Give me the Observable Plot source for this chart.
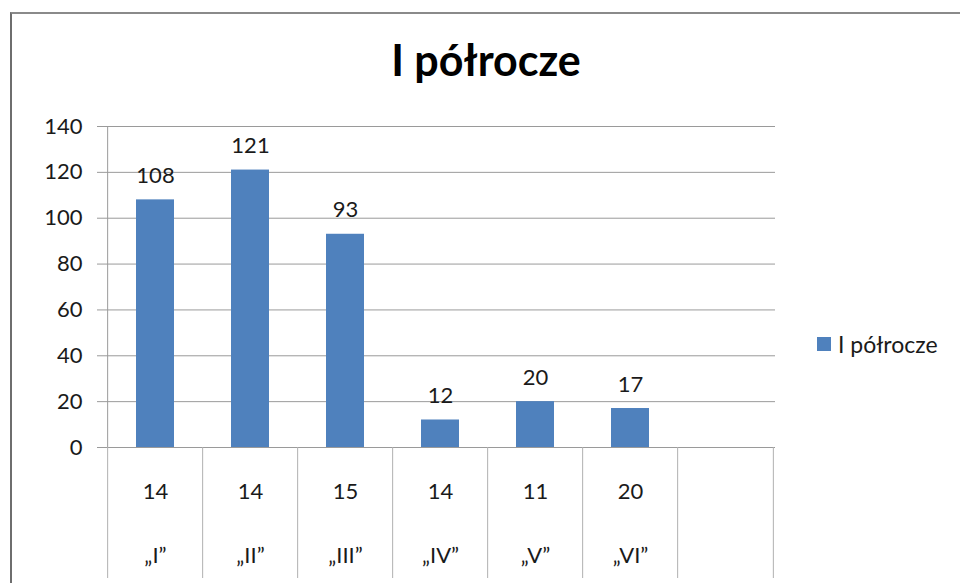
<!DOCTYPE html>
<html>
<head>
<meta charset="utf-8">
<script src="https://cdn.jsdelivr.net/npm/d3@7"></script>
<script src="https://cdn.jsdelivr.net/npm/@observablehq/plot@0.6"></script>
<style>
  html, body { margin: 0; padding: 0; background: #fff; }
  #wrap { position: relative; width: 960px; height: 583px; overflow: hidden; font-family: Lato, "Open Sans", sans-serif; }
  #frame { position: absolute; left: 10px; top: 12px; width: 1000px; height: 1000px; border-left: 2px solid #6e6e6e; border-top: 2px solid #8a8a8a; box-sizing: border-box; }
  #title { position: absolute; left: 0; width: 972px; top: 38px; text-align: center; font-weight: bold; font-size: 43px; color: #000; line-height: 1; }
  #legend { position: absolute; left: 817px; top: 330px; display: flex; align-items: center; font-size: 23px; color: #1a1a1a; }
  #legend .sw { width: 14px; height: 14px; background: #4F81BD; margin-right: 7px; }
  #chart { position: absolute; left: 0; top: 0; }
</style>
</head>
<body>
<div id="wrap">
  <div id="frame"></div>
  <div id="chart"></div>
  <div id="title">I półrocze</div>
  <div id="legend"><div class="sw"></div><span>I półrocze</span></div>
</div>
<script>
const categories = ["„I”", "„II”", "„III”", "„IV”", "„V”", "„VI”", ""];
const counts = ["14", "14", "15", "14", "11", "20", ""];
const values = [108, 121, 93, 12, 20, 17];
const yTicks = [0, 20, 40, 60, 80, 100, 120, 140];
const seriesName = "I półrocze";

const bars = values.map((v, i) => ({cat: categories[i], value: v}));
const table = categories.map((c, i) => ({cat: c, count: counts[i]}));

const W = 960, H = 583, mL = 105, mR = 185, mT = 126, mB = 136;
const step = (W - mL - mR) / categories.length;
const fontFam = "Lato, 'Open Sans', sans-serif";
const fs = 22;

const chart = Plot.plot({
  width: W, height: H,
  marginLeft: mL, marginRight: mR, marginTop: mT, marginBottom: mB,
  style: {fontFamily: fontFam, fontSize: fs + "px", color: "#1a1a1a", background: "transparent", overflow: "visible"},
  x: {domain: categories, paddingInner: 0.6, paddingOuter: 0.3, axis: null, label: null},
  y: {domain: [0, 140], axis: null, label: null},
  marks: [
    Plot.gridY(yTicks, {stroke: "#9a9a9a", strokeOpacity: 1}),
    Plot.axisY({ticks: yTicks, label: null, tickSize: 8, tickPadding: 15, stroke: "#9a9a9a", fill: "#1a1a1a", fontSize: fs, tickFormat: d => String(d)}),
    Plot.ruleX([categories[0]], {y1: 0, y2: 140, dx: -step / 2, stroke: "#9a9a9a"}),
    Plot.axisX({anchor: "bottom", label: null, tickSize: 131, dx: -step / 2, stroke: "#b0b0b0", tickFormat: () => ""}),
    Plot.axisX({anchor: "bottom", label: null, ticks: [categories[categories.length - 1]], tickSize: 131, dx: step / 2, stroke: "#b0b0b0", tickFormat: () => ""}),
    Plot.barY(bars, {x: "cat", y: "value", fill: "#4F81BD"}),
    Plot.text(bars, {x: "cat", y: "value", text: d => String(d.value), lineAnchor: "bottom", dy: -17, fill: "#1a1a1a", fontSize: fs}),
    Plot.text(table, {x: "cat", text: "count", frameAnchor: "bottom", lineAnchor: "middle", dy: 44, fill: "#1a1a1a", fontSize: fs}),
    Plot.text(table, {x: "cat", text: "cat", frameAnchor: "bottom", lineAnchor: "middle", dy: 108, fill: "#1a1a1a", fontSize: fs})
  ]
});
document.getElementById("chart").appendChild(chart);
document.querySelector("#legend span").textContent = seriesName;
</script>
</body>
</html>
